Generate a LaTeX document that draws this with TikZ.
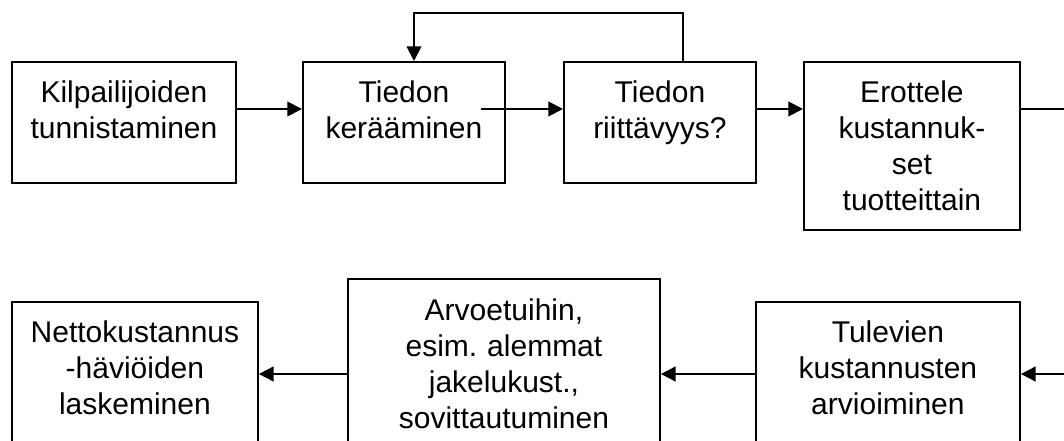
\documentclass[tikz,border=0pt]{standalone}
\usepackage{fontspec}
\setmainfont{Liberation Sans}
\usetikzlibrary{arrows.meta}
\frenchspacing

\tikzset{
  stepbox/.style={draw, line width=1.4pt, inner sep=0pt, align=center,
    anchor=north west, font=\fontsize{22.5pt}{27pt}\selectfont,
    text height=30.75pt},
  link/.style={line width=1.4pt},
  arr/.style={link, -{Triangle[length=11pt,width=11pt]}}
}

\begin{document}
\begin{tikzpicture}[x=0.75pt,y=-0.75pt]
  \useasboundingbox (0,0) rectangle (1064,441);
  \fill[white] (0,0) rectangle (1064,441);
  \clip (0,0) rectangle (1064,441);

  % upper row
  \node[stepbox, text width=168pt,   text depth=60pt]    (k1) at (11,61)  {Kilpailijoiden\\tunnistaminen};
  \node[stepbox, text width=151.5pt, text depth=60pt]    (k2) at (302,61) {Tiedon\\kerääminen};
  \node[stepbox, text width=144pt,   text depth=60pt]    (k3) at (563,61) {Tiedon\\riittävyys?};
  \node[stepbox, text width=162pt,   text depth=95.25pt] (k4) at (803,61) {Erottele\\kustannuk-\\set\\tuotteittain};

  % lower row
  \node[stepbox, text width=184.5pt, text depth=112.5pt] (k5) at (11,301)  {Nettokustannus\\-häviöiden\\laskeminen};
  \node[stepbox, text width=234pt,   text depth=135pt, text height=31.5pt] (k6) at (347,278) {Arvoetuihin,\\esim. alemmat\\jakelukust.,\\sovittautuminen};
  \node[stepbox, text width=198pt,   text depth=112.5pt] (k7) at (755,301) {Tulevien\\kustannusten\\arvioiminen};

  % connector rows and turning points
  \coordinate (rowA) at (0,109);
  \coordinate (rowB) at (0,374);
  \coordinate (fbL) at (414,13);
  \coordinate (fbR) at (683,13);
  \coordinate (s23) at (481,109);
  \coordinate (turn) at (1090,0);

  \draw[arr] (k1.east |- rowA) -- (k2.west |- rowA);
  \draw[arr] (s23) -- (k3.west |- rowA);
  \draw[arr] (k3.east |- rowA) -- (k4.west |- rowA);
  \draw[arr] (k3.north -| fbR) -- (fbR) -- (fbL) -- (k2.north -| fbL);
  \draw[arr] (k4.east |- rowA) -- (turn |- rowA) -- (turn |- rowB) -- (k7.east |- rowB);
  \draw[arr] (k7.west |- rowB) -- (k6.east |- rowB);
  \draw[arr] (k6.west |- rowB) -- (k5.east |- rowB);
\end{tikzpicture}
\end{document}
